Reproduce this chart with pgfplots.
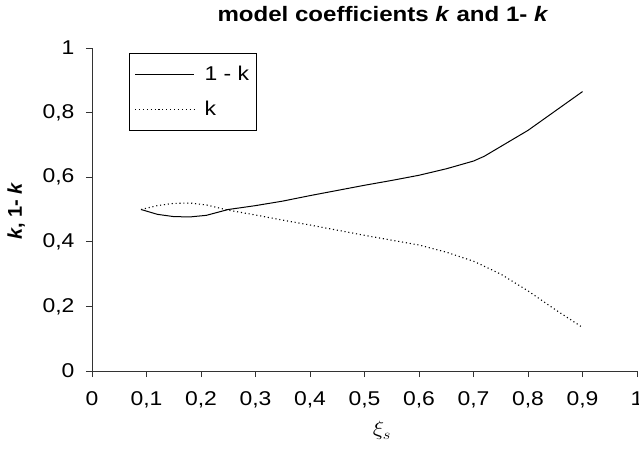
\documentclass[border=0pt]{standalone}
\usepackage{fontspec}
\setmainfont{Liberation Sans}[FakeStretch=1.15]
\newfontfamily\plainfont{Liberation Sans}
\usepackage{pgfplots}
\pgfplotsset{compat=1.18}
\begin{document}
\begin{tikzpicture}
\begin{axis}[
  scale only axis, width=545bp, height=323bp,
  xmin=0, xmax=1, ymin=0, ymax=1,
  axis x line=bottom, axis y line=left,
  axis line style={-, black!80, line width=0.9bp},
  xtick={0,0.1,0.2,0.3,0.4,0.5,0.6,0.7,0.8,0.9,1},
  ytick={0,0.2,0.4,0.6,0.8,1},
  tick align=outside, major tick length=6bp,
  tick style={black!80, line width=0.9bp},
  /pgf/number format/assume math mode=true,
  /pgf/number format/use comma, /pgf/number format/fixed, /pgf/number format/precision=1,
  ticklabel style={font=\fontsize{20}{24}\selectfont},
  xticklabel style={yshift=-11bp},
  yticklabel style={xshift=-8bp},
  title={model coefficients \textit{k} and 1- \textit{k}},
  title style={font=\fontsize{21}{25}\selectfont\bfseries, at={(axis description cs:0.534,1)}, anchor=center, yshift=28bp},
  ylabel={\textit{k}, 1- \textit{k}},
  ylabel style={font=\plainfont\fontsize{20}{24}\selectfont\bfseries, at={(axis description cs:-0.139,0.495)}, anchor=center},
  xlabel={\scalebox{1.15}[1]{$\xi_{s}$}},
  xlabel style={font=\fontsize{22}{26}\selectfont, at={(axis description cs:0.532,-0.185)}, anchor=center},
  legend style={at={(axis description cs:0.068,0.985)}, anchor=north west, draw=black, line width=0.9bp,
    font=\fontsize{20}{24}\selectfont, row sep=15bp, column sep=8bp, inner xsep=5bp, inner ysep=11bp},
  legend cell align=left,
  legend image code/.code={\draw[#1] (0bp,0bp) -- (59bp,0bp);},
]
\addplot[black, line width=1bp] coordinates {
(0.09,0.500) (0.12,0.485) (0.15,0.478) (0.18,0.477) (0.21,0.482) (0.25,0.500)
(0.30,0.512) (0.35,0.526) (0.40,0.543) (0.45,0.559) (0.50,0.575) (0.55,0.590)
(0.60,0.606) (0.65,0.626) (0.70,0.650) (0.72,0.665) (0.75,0.695) (0.80,0.745)
(0.85,0.805) (0.90,0.865)};
\addlegendentry{1 - k}
\addplot[black, line width=1.1bp, dash pattern=on 1.1bp off 2.8bp] coordinates {
(0.09,0.500) (0.12,0.512) (0.15,0.519) (0.18,0.520) (0.21,0.514) (0.25,0.498)
(0.30,0.483) (0.35,0.467) (0.40,0.452) (0.45,0.436) (0.50,0.420) (0.55,0.405)
(0.60,0.390) (0.65,0.368) (0.70,0.340) (0.75,0.300) (0.80,0.248) (0.85,0.190)
(0.90,0.135)};
\addlegendentry{k}
\coordinate (O) at (rel axis cs:0,0);
\end{axis}
\pgfresetboundingbox
\path[use as bounding box] ([shift={(-92bp,-92bp)}]O) rectangle ([shift={(547bp,371bp)}]O);
\end{tikzpicture}
\end{document}
